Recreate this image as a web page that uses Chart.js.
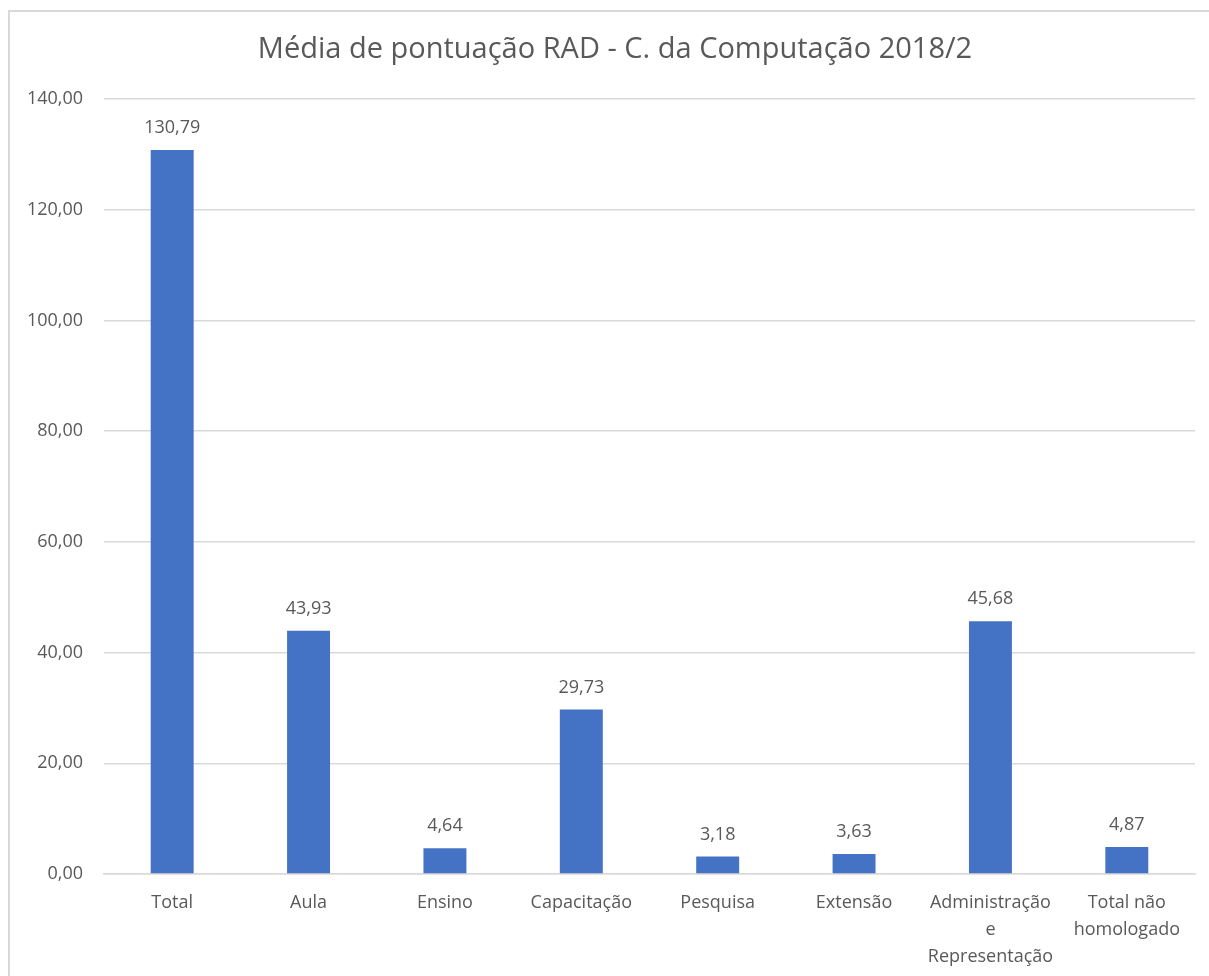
<!DOCTYPE html>
<html>
<head>
<meta charset="utf-8">
<script src="https://cdn.jsdelivr.net/npm/chart.js@4"></script>
<style>
    body { margin: 0; background: #fff; overflow: hidden; }
    #wrap { position: relative; width: 1209px; height: 976px; }
    #frame { position: absolute; left: 8px; top: 10px; width: 1300px; height: 1100px; border: 2px solid #d9d9d9; pointer-events: none; }
</style>
</head>
<body>
<div id="wrap">
    <canvas id="radChart" width="1209" height="976"></canvas>
    <div id="frame"></div>
</div>
<script>
    // --- dados ---
    const categorias = ['Total', 'Aula', 'Ensino', 'Capacitação', 'Pesquisa', 'Extensão', ['Administração', 'e', 'Representação'], ['Total não', 'homologado']];
    const medias = [130.79, 43.93, 4.64, 29.73, 3.18, 3.63, 45.68, 4.87];
    const tituloGrafico = 'Média de pontuação RAD - C. da Computação 2018/2';

    const corTexto = '#595959';
    const fonte = '"Open Sans", "Noto Sans", sans-serif';

    const fmt = v => Number(v).toFixed(2).replace('.', ',');

    // título desenhado à mão (centralizado na moldura, não na área do gráfico)
    const tituloPlugin = {
        id: 'tituloPlugin',
        afterDraw(chart) {
            const ctx = chart.ctx;
            ctx.save();
            ctx.font = '29px ' + fonte;
            ctx.fillStyle = corTexto;
            ctx.textAlign = 'center';
            ctx.textBaseline = 'middle';
            ctx.fillText(tituloGrafico, 615, 50);
            ctx.restore();
        }
    };

    // rótulos de valor acima das barras
    const rotulosBarras = {
        id: 'rotulosBarras',
        afterDatasetsDraw(chart) {
            const ctx = chart.ctx;
            const meta = chart.getDatasetMeta(0);
            ctx.save();
            ctx.font = '18px ' + fonte;
            ctx.fillStyle = corTexto;
            ctx.textAlign = 'center';
            ctx.textBaseline = 'middle';
            meta.data.forEach((bar, i) => {
                ctx.fillText(fmt(medias[i]), bar.x, bar.y - 22);
            });
            ctx.restore();
        }
    };

    new Chart(document.getElementById('radChart'), {
        type: 'bar',
        data: {
            labels: categorias,
            datasets: [{
                data: medias,
                backgroundColor: '#4472c4',
                barPercentage: 0.315,
                categoryPercentage: 1
            }]
        },
        options: {
            responsive: false,
            animation: false,
            layout: { padding: { left: 15, right: 14, top: 99, bottom: 0 } },
            plugins: {
                legend: { display: false },
                tooltip: { enabled: false },
                title: { display: false }
            },
            scales: {
                x: {
                    grid: { display: false, drawTicks: false },
                    border: { color: '#d9d9d9', width: 1.5 },
                    ticks: { color: corTexto, font: { family: fonte, size: 18, lineHeight: 1.5 }, padding: 15, maxRotation: 0, autoSkip: false },
                    afterFit: s => { s.height = 102; }
                },
                y: {
                    min: 0,
                    max: 140,
                    grid: { color: '#d9d9d9', lineWidth: 1.5, drawTicks: false },
                    border: { display: false },
                    ticks: { stepSize: 20, color: corTexto, font: { family: fonte, size: 18 }, padding: 21, callback: v => fmt(v) },
                    afterFit: s => { s.width = 89; }
                }
            }
        },
        plugins: [rotulosBarras, tituloPlugin]
    });
</script>
</body>
</html>
